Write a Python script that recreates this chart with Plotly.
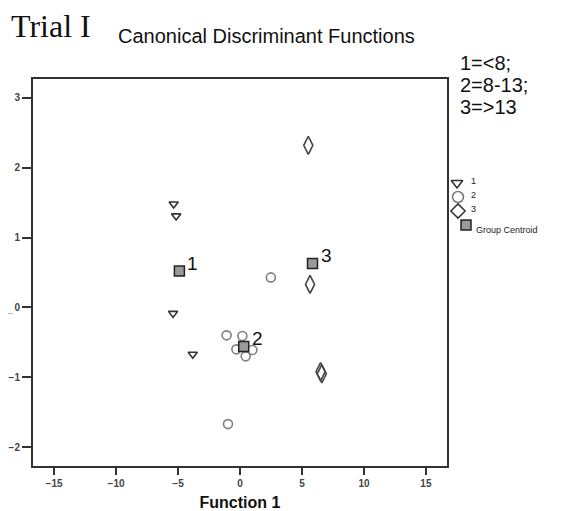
import plotly.graph_objects as go

# Data
g1_x = [-5.35, -5.15, -5.40, -3.81]
g1_y = [1.48, 1.31, -0.085, -0.67]
g2_x = [2.49, -1.08, 0.19, -0.29, 1.00, 0.46, -0.97]
g2_y = [0.43, -0.40, -0.41, -0.60, -0.61, -0.70, -1.67]
g3_x = [5.51, 5.65, 6.50, 6.60]
g3_y = [2.32, 0.33, -0.92, -0.95]
cent_x = [-4.89, 0.30, 5.85]
cent_y = [0.52, -0.56, 0.63]
cent_labels = ["1", "2", "3"]
x_ticks = [-15, -10, -5, 0, 5, 10, 15]
y_ticks = [-2, -1, 0, 1, 2, 3]
legend_labels = ["1", "2", "3", "Group Centroid"]
group_codes = ["1=&lt;8;", "2=8-13;", "3=&gt;13"]

FONT = "Liberation Sans, Arial, sans-serif"
# page body has an 8px margin: shrink the figure so it fits the 562x511 window
OFF = 8
FIG_W, FIG_H = 562 - OFF, 511 - OFF
L, T, B, R = 33 - OFF, 79 - OFF, 45, 5
W = FIG_W - L - R
H = FIG_H - T - B


def px(x):
    return (x - 33) / W


def py(y):
    return (466 - y) / H


fig = go.Figure()
fig.add_trace(go.Scatter(x=g1_x, y=g1_y, mode="markers",
                         marker=dict(symbol="triangle-down-open", size=8, color="#333333",
                                     line=dict(color="#333333", width=1.6))))
fig.add_trace(go.Scatter(x=g2_x, y=g2_y, mode="markers",
                         marker=dict(symbol="circle-open", size=9, color="#808080",
                                     line=dict(color="#808080", width=1.6))))
fig.add_trace(go.Scatter(x=g3_x, y=g3_y, mode="markers",
                         marker=dict(symbol="diamond-tall-open", size=13, color="#444444",
                                     line=dict(color="#444444", width=1.6))))
fig.add_trace(go.Scatter(x=cent_x, y=cent_y, mode="markers",
                         marker=dict(symbol="square", size=10, color="#9a9a9a",
                                     line=dict(color="#222222", width=1.5))))
for cx, cy, lab in zip(cent_x, cent_y, cent_labels):
    fig.add_annotation(x=cx, y=cy, text=lab, showarrow=False, xanchor="left", yanchor="middle",
                       xshift=6, yshift=8, font=dict(family=FONT, size=19, color="#111111"))

# Legend symbols on a small overlay axis in pixel units
leg_sym_x = [457, 458, 458, 466]
leg_sym_y = [183, 197, 211, 225]
leg_styles = [
    dict(symbol="triangle-down-open", size=10, color="#333333", line=dict(color="#333333", width=1.6)),
    dict(symbol="circle-open", size=11, color="#777777", line=dict(color="#777777", width=1.5)),
    dict(symbol="diamond-open", size=11, color="#333333", line=dict(color="#333333", width=1.5)),
    dict(symbol="square", size=10, color="#9a9a9a", line=dict(color="#222222", width=1.5)),
]
for sx, sy, st in zip(leg_sym_x, leg_sym_y, leg_styles):
    fig.add_trace(go.Scatter(x=[sx], y=[sy], xaxis="x2", yaxis="y2", mode="markers",
                             marker=st, cliponaxis=False))

axis_common = dict(showline=True, linewidth=2, linecolor="#333333", mirror=True,
                   ticks="outside", tickcolor="#333333", tickwidth=2,
                   showgrid=False, zeroline=False, automargin=False,
                   tickfont=dict(family=FONT, size=10, color="#444444", weight="bold"))

fig.update_layout(
    width=FIG_W, height=FIG_H,
    margin=dict(l=L, r=R, t=T, b=B),
    paper_bgcolor="white", plot_bgcolor="white",
    xaxis=dict(domain=[0, px(447)], range=[-16.7, 16.7], tickvals=x_ticks, ticklen=7,
               title=dict(text="<b>Function 1</b>", font=dict(family=FONT, size=16, color="#111111"),
                          standoff=9),
               **axis_common),
    yaxis=dict(range=[-2.27, 3.27], tickvals=y_ticks, ticklen=9,
               **axis_common),
    xaxis2=dict(domain=[px(450), px(490)], range=[450, 490], visible=False, anchor="y2"),
    yaxis2=dict(domain=[py(235), py(175)], range=[235, 175], visible=False, anchor="x2"),
    showlegend=False,
)

# Legend texts
leg_text_pos = [(469, 181, 9), (469, 195, 9), (469, 209, 9), (474, 230, 9)]
for lab, (tx, ty, fs) in zip(legend_labels, leg_text_pos):
    fig.add_annotation(text=lab, xref="paper", yref="paper", x=px(tx), y=py(ty),
                       xanchor="left", yanchor="middle", showarrow=False,
                       font=dict(family=FONT, size=fs, color="#222222"))

# Group code text
for txt, ty in zip(group_codes, [63, 85, 107]):
    fig.add_annotation(text=txt, xref="paper", yref="paper", x=px(458), y=py(ty),
                       xanchor="left", yanchor="middle", showarrow=False,
                       font=dict(family=FONT, size=20, color="#111111"))

# Titles
fig.add_annotation(text="Trial I", xref="paper", yref="paper", x=px(9), y=py(26),
                   xanchor="left", yanchor="middle", showarrow=False,
                   font=dict(family="Liberation Serif, Times New Roman, serif", size=32, color="#111111"))
fig.add_annotation(text="Canonical Discriminant Functions", xref="paper", yref="paper",
                   x=px(116), y=py(36), xanchor="left", yanchor="middle", showarrow=False,
                   font=dict(family=FONT, size=20, color="#111111"))
# clipped y-axis title remnant
fig.add_annotation(text="_", xref="paper", yref="paper", x=px(10), y=py(309),
                   xanchor="center", yanchor="middle", showarrow=False,
                   font=dict(family=FONT, size=8, color="#777777"))

fig.write_html("out.html")
